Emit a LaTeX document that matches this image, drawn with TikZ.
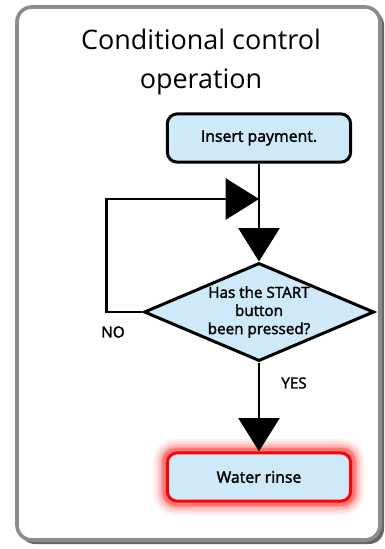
\documentclass[tikz,border=0pt]{standalone}
\usepackage{fontspec}
\setmainfont{Open Sans}
\newfontfamily\semifont[FakeBold=2]{Open Sans}
\usetikzlibrary{arrows.meta,positioning,shapes.geometric,backgrounds}

\definecolor{boxblue}{RGB}{206,233,247}
\definecolor{framegray}{RGB}{140,140,140}
\definecolor{glowred}{RGB}{255,0,0}

\begin{document}
\begin{tikzpicture}[>={Triangle[length=1cm,width=1.23cm]}, x=0.03cm, y=-0.03cm]

		\tikzstyle{box}=[draw, rounded corners=0.3cm, line width=0.09cm, fill=boxblue,
		minimum width=5.5cm, minimum height=1.45cm, align=center,
		font=\semifont\fontsize{13.5}{16}\selectfont]
		\tikzstyle{ask}=[diamond, draw, line width=0.09cm, fill=boxblue, inner sep=0pt,
		aspect=2.2, minimum width=6.9cm, align=center,
		font=\semifont\fontsize{13}{15.5}\selectfont]
		\tikzstyle{flow}=[->, line width=0.08cm]
		\tikzstyle{lbl}=[font=\semifont\fontsize{13}{15}\selectfont]

		\useasboundingbox (0,0) rectangle (384,549);

		% Title
		\node[align=center, font=\fontsize{23}{33}\selectfont] (title) at (201,62)
		{Conditional control\\operation};

		% Steps
		\node[box] (Pay) at (259,138) {Insert payment.};
		\node[ask] (Ask) at (259,312) {Has the START\\button\\been pressed?};
		\node[box, draw=red] (Rinse) at (259,477) {Water rinse};

		% Loop back
		\coordinate (join) at (259,199);

		% Arrows
		\draw[flow] (Pay.south) -- (Ask.north);
		\draw[flow] (Ask.west) -- ++(-36,0) |- (join);
		\draw[flow] (Ask.south) -- (Rinse.north);

		\node[lbl] (no) at (113,332) {NO};
		\node[lbl] (yes) at (294,383) {YES};

		% Frame and glow
		\begin{scope}[on background layer]
		\fill[gray!80!black, rounded corners=0.45cm] (20,10) rectangle (384,544);
		\draw[framegray, fill=white, line width=0.11cm, rounded corners=0.45cm]
		(17,7) rectangle (380,540);
		\foreach \w/\o in {0.75/0.06, 0.6/0.08, 0.45/0.12, 0.3/0.18, 0.2/0.25}
		\draw[glowred, line width=\w cm, opacity=\o, rounded corners=0.3cm]
		(Rinse.south west) rectangle (Rinse.north east);
		\end{scope}

\end{tikzpicture}
\end{document}
